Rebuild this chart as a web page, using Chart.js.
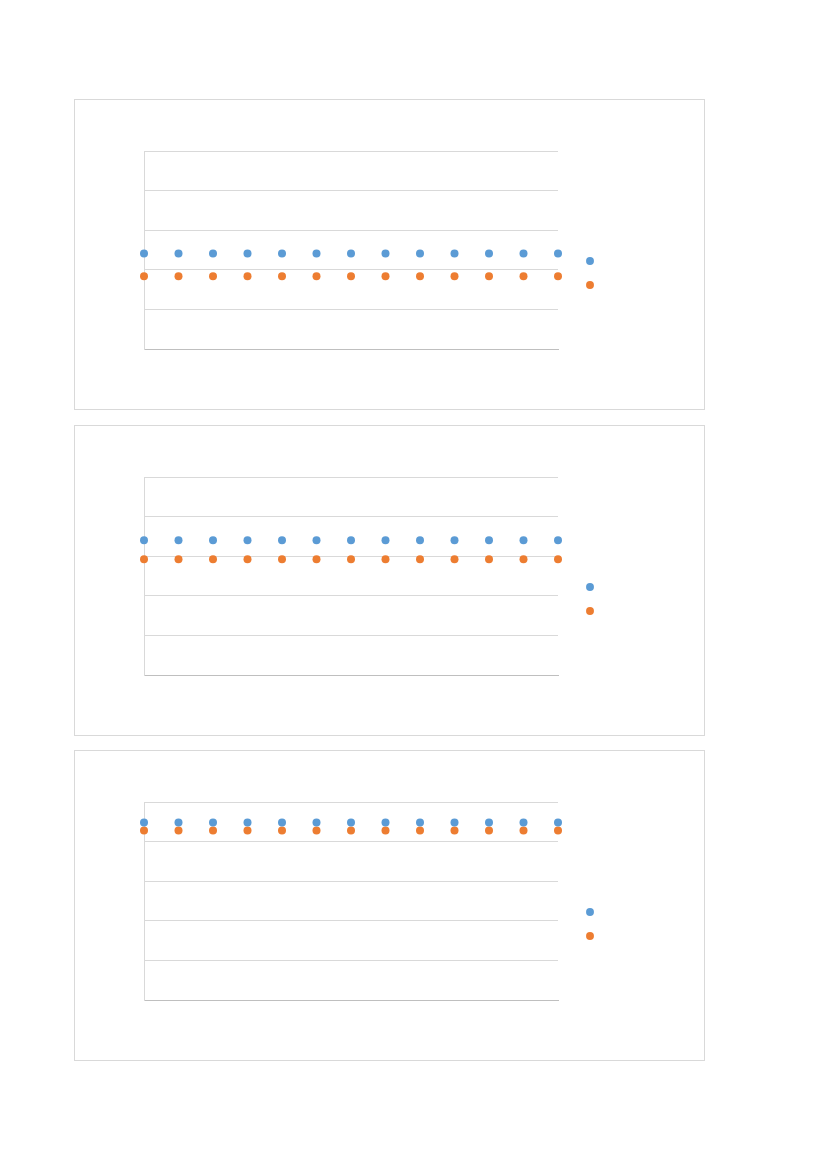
<!DOCTYPE html>
<html>
<head>
<meta charset="utf-8">
<script src="https://cdn.jsdelivr.net/npm/chart.js@4/dist/chart.umd.min.js"></script>
<style>
  body { margin: 0; background: #fff; }
  .box { position: absolute; left: 74px; width: 629px; height: 309px; border: 1px solid #d9d9d9; background: #fff; }
  .box canvas { display: block; }
</style>
</head>
<body>
<div class="box" style="top:99px"><canvas id="chart1" width="629" height="309"></canvas></div>
<div class="box" style="top:425px"><canvas id="chart2" width="629" height="309"></canvas></div>
<div class="box" style="top:750px"><canvas id="chart3" width="629" height="309"></canvas></div>
<script>
  // x positions shared by every series
  var xValues = [1, 2, 3, 4, 5, 6, 7, 8, 9, 10, 11, 12, 13];
  var yTicks = [0, 1, 2, 3, 4, 5];
  var seriesNames = ['', ''];
  var seriesColors = ['#5b9bd5', '#ed7d31'];

  var chart1Blue = [2.41, 2.41, 2.41, 2.41, 2.41, 2.41, 2.41, 2.41, 2.41, 2.41, 2.41, 2.41, 2.41];
  var chart1Orange = [1.84, 1.84, 1.84, 1.84, 1.84, 1.84, 1.84, 1.84, 1.84, 1.84, 1.84, 1.84, 1.84];
  var chart2Blue = [3.40, 3.40, 3.40, 3.40, 3.40, 3.40, 3.40, 3.40, 3.40, 3.40, 3.40, 3.40, 3.40];
  var chart2Orange = [2.92, 2.92, 2.92, 2.92, 2.92, 2.92, 2.92, 2.92, 2.92, 2.92, 2.92, 2.92, 2.92];
  var chart3Blue = [4.48, 4.48, 4.48, 4.48, 4.48, 4.48, 4.48, 4.48, 4.48, 4.48, 4.48, 4.48, 4.48];
  var chart3Orange = [4.28, 4.28, 4.28, 4.28, 4.28, 4.28, 4.28, 4.28, 4.28, 4.28, 4.28, 4.28, 4.28];

  function toPoints(vals) {
    var pts = [];
    vals.forEach(function (v, i) {
      pts.push({ x: xValues[i], y: v });
    });
    return pts;
  }

  function makeChart(id, blue, orange) {
    var ctx = document.getElementById(id);
    return new Chart(ctx, {
      type: 'scatter',
      data: {
        datasets: [{
          label: seriesNames[0],
          data: toPoints(blue),
          backgroundColor: seriesColors[0],
          borderWidth: 0,
          pointRadius: 4,
          pointHoverRadius: 4,
          clip: false
        }, {
          label: seriesNames[1],
          data: toPoints(orange),
          backgroundColor: seriesColors[1],
          borderWidth: 0,
          pointRadius: 4,
          pointHoverRadius: 4,
          clip: false
        }]
      },
      options: {
        responsive: false,
        animation: false,
        events: [],
        layout: { padding: { left: 69, top: 51, bottom: 60, right: 95 } },
        scales: {
          x: {
            type: 'linear',
            min: xValues[0],
            max: xValues[xValues.length - 1],
            grid: { display: false, drawTicks: false },
            border: { display: true, color: '#bfbfbf', width: 1 },
            ticks: { display: false }
          },
          y: {
            min: yTicks[0],
            max: yTicks[yTicks.length - 1],
            ticks: { display: false, stepSize: 1 },
            grid: { color: '#d9d9d9', drawTicks: false },
            border: { display: true, color: '#d9d9d9', width: 1 }
          },
          // empty spacer between plot and legend
          gap: {
            position: 'right',
            display: true,
            grid: { display: false, drawTicks: false },
            border: { display: false },
            ticks: { display: false },
            afterFit: function (scale) { scale.width = 17; }
          }
        },
        plugins: {
          tooltip: { enabled: false },
          legend: {
            position: 'right',
            title: { display: true, text: '', padding: { top: 0, bottom: 31.6 }, font: { size: 12 } },
            labels: {
              usePointStyle: true,
              pointStyle: 'circle',
              boxWidth: 6,
              boxHeight: 5.6,
              padding: 12,
              font: { size: 12 },
              color: '#595959'
            }
          }
        }
      }
    });
  }

  makeChart('chart1', chart1Blue, chart1Orange);
  makeChart('chart2', chart2Blue, chart2Orange);
  makeChart('chart3', chart3Blue, chart3Orange);
</script>
</body>
</html>
